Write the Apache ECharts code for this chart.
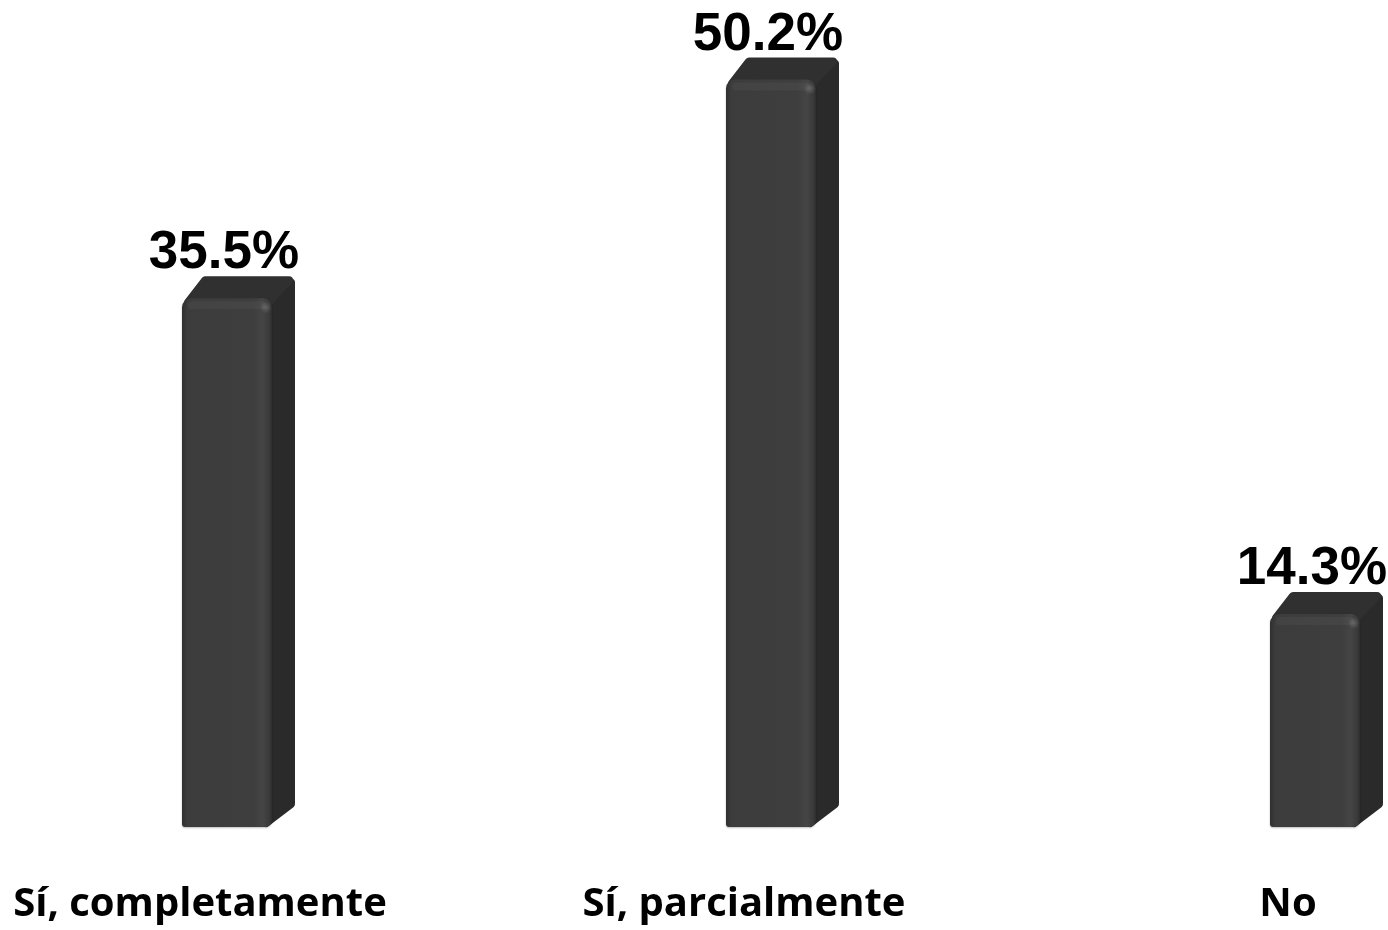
<!DOCTYPE html>
<html>
<head>
<meta charset="utf-8">
<script src="https://cdn.jsdelivr.net/npm/echarts@6/dist/echarts.min.js"></script>
<style>
html,body{margin:0;padding:0;background:#fff;}
#chart{width:1388px;height:930px;}
</style>
</head>
<body>
<div id="chart"></div>
<script>
const categories = ['Sí, completamente', 'Sí, parcialmente', 'No'];
const values = [35.5, 50.2, 14.3];
const valueLabels = ['35.5%', '50.2%', '14.3%'];

const chart = echarts.init(document.getElementById('chart'));

const FRONT_W = 90;   // front face width
const DX = 23;        // depth offset x
const DY = 22;        // depth offset y
const SHIFT = 27;     // front centre shift from category centre

function renderItem(params, api) {
  const idx = api.value(0);
  const val = api.value(1);
  const top = api.coord([idx, val]);
  const base = api.coord([idx, 0]);
  const cx = top[0] + SHIFT;
  const fl = cx - FRONT_W / 2;
  const fr = cx + FRONT_W / 2;
  const ty = top[1];
  const by = base[1];
  const children = [];
  const h = 4; // half stroke inset
  // side face
  children.push({
    type: 'polygon',
    shape: { points: [[fr - 6, ty + h], [fr + DX - h, ty - DY + h + 2], [fr + DX - h, by - DY - 1], [fr - 6, by - h]] },
    style: { fill: '#2a2a2a', stroke: '#2a2a2a', lineWidth: 8, lineJoin: 'round' }
  });
  // top face
  children.push({
    type: 'polygon',
    shape: { points: [[fl + h + 2, ty + h], [fl + DX, ty - DY + h], [fr + DX - h - 2, ty - DY + h], [fr - 4, ty + h]] },
    style: {
      fill: '#303030',
      stroke: '#303030', lineWidth: 8, lineJoin: 'round'
    }
  });
  // front face
  children.push({
    type: 'rect',
    shape: { x: fl, y: ty, width: FRONT_W, height: by - ty, r: [9, 9, 7, 3] },
    style: {
      fill: new echarts.graphic.LinearGradient(0, 0, 1, 0, [
        { offset: 0, color: '#2f2f2f' },
        { offset: 0.06, color: '#3c3c3c' },
        { offset: 0.8, color: '#3e3e3e' },
        { offset: 0.9, color: '#454545' },
        { offset: 0.97, color: '#3a3a3a' },
        { offset: 1, color: '#2d2d2d' }
      ]),
      shadowBlur: 2, shadowColor: 'rgba(0,0,0,0.25)', shadowOffsetY: 1
    }
  });
  // top highlight band on front
  children.push({
    type: 'rect',
    shape: { x: fl + 6, y: ty + 3, width: FRONT_W - 12, height: 8, r: 4 },
    style: { fill: 'rgba(255,255,255,0.04)' }
  });
  // small highlight spot at top-right of front
  children.push({
    type: 'circle',
    shape: { cx: fr - 6, cy: ty + 9, r: 6 },
    style: {
      fill: new echarts.graphic.RadialGradient(0.5, 0.5, 0.5, [
        { offset: 0, color: 'rgba(255,255,255,0.18)' },
        { offset: 1, color: 'rgba(255,255,255,0)' }
      ])
    }
  });
  // value label
  children.push({
    type: 'text',
    style: {
      text: valueLabels[idx],
      x: cx - 3,
      y: ty - DY + 4,
      align: 'center',
      verticalAlign: 'bottom',
      font: 'bold 53px "Liberation Sans", Arial, sans-serif',
      fill: '#000'
    }
  });
  return { type: 'group', children: children };
}

chart.setOption({
  backgroundColor: '#fff',
  animation: false,
  grid: { left: 200, right: 100, top: 8, bottom: 103, containLabel: false },
  xAxis: {
    type: 'category',
    data: categories,
    boundaryGap: false,
    axisLine: { show: false },
    axisTick: { show: false },
    axisLabel: {
      margin: 58,
      fontSize: 40,
      fontWeight: 'bold',
      fontFamily: '"Open Sans", Lato, sans-serif',
      color: '#000',
      interval: 0
    }
  },
  yAxis: {
    type: 'value',
    min: 0,
    max: 55,
    show: false,
    splitLine: { show: false }
  },
  series: [{
    type: 'custom',
    renderItem: renderItem,
    data: values.map((v, i) => [i, v]),
    clip: false
  }]
});
</script>
</body>
</html>
